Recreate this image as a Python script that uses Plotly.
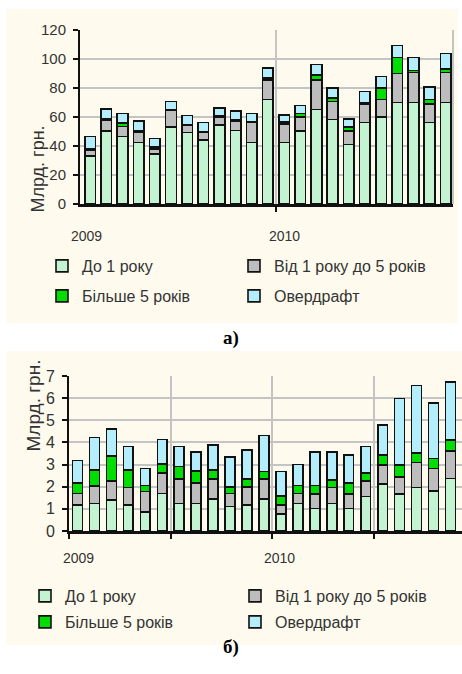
import plotly.graph_objects as go

W, H = 462, 674

# ---------------- data ----------------
month_index = list(range(23))
series_names = ["До 1 року", "Від 1 року до 5 років", "Більше 5 років", "Овердрафт"]
series_colors = ["#C4F3D2", "#BDBDBD", "#00DD00", "#B4EEFC"]

top_do1 = [33, 50.5, 46.5, 42.3, 34.3, 53.3, 49.2, 44.1, 54.5, 50.6, 42.3, 72.2,
           42.3, 50.3, 65.3, 58.4, 41.1, 56.1, 59.8, 69.9, 69.9, 56.1, 69.9]
top_1to5 = [4, 7.5, 7, 7, 3.7, 11.5, 5.3, 5.1, 5.7, 6.2, 13.8, 13.3,
            12.9, 9.9, 20.2, 12.2, 9.2, 12.9, 12.4, 20.2, 20.7, 12.9, 20.7]
top_over5 = [1, 0.5, 2.5, 1, 1.3, 0.5, 0.3, 0.4, 0.4, 1.1, 0.9, 1.4,
             1.4, 2.3, 3.5, 2.7, 3, 0.5, 7.6, 11, 1.6, 3.2, 2.7]
top_overdraft = [8.5, 7, 6.5, 7, 6, 5.3, 6.3, 6.5, 5.8, 6.2, 5.5, 6.7,
                 4.8, 5.5, 7.3, 6.5, 5.3, 8, 8, 8.1, 8.9, 8.7, 10.6]

bot_do1 = [1.17, 1.25, 1.40, 1.17, 0.87, 1.70, 1.25, 1.25, 1.45, 1.10, 1.17, 1.45,
           0.77, 1.25, 1.02, 1.25, 1.02, 1.55, 2.12, 1.67, 1.96, 1.81, 2.38]
bot_1to5 = [0.53, 0.78, 0.87, 0.79, 0.91, 0.91, 1.10, 0.93, 0.90, 0.60, 0.83, 0.90,
            0.40, 0.45, 0.64, 0.71, 0.64, 0.71, 0.86, 0.78, 1.14, 1.02, 1.23]
bot_over5 = [0.48, 0.73, 1.13, 0.80, 0.27, 0.42, 0.56, 0.53, 0.41, 0.30, 0.35, 0.33,
             0.41, 0.35, 0.39, 0.34, 0.52, 0.35, 0.45, 0.53, 0.41, 0.45, 0.50]
bot_overdraft = [1.00, 1.46, 1.21, 1.05, 0.78, 1.11, 0.90, 0.87, 1.13, 1.33, 1.31, 1.64,
                 1.10, 0.96, 1.53, 1.28, 1.25, 1.20, 1.36, 3.01, 3.06, 2.49, 2.61]

year_labels = ["2009", "2010"]
y_title = "Млрд. грн."
top_yticks = [0, 20, 40, 60, 80, 100, 120]
bot_yticks = [0, 1, 2, 3, 4, 5, 6, 7]

# ---------------- helpers ----------------
def px(x):
    return x / W

def py(y):
    return 1 - y / H

FONT = "Liberation Sans, Arial, sans-serif"
TXT = "#333333"
GRID = "#C4C4C4"
CREAM = "#FEFBEE"

fig = go.Figure()

top_series = [top_do1, top_1to5, top_over5, top_overdraft]
bot_series = [bot_do1, bot_1to5, bot_over5, bot_overdraft]
top_legends = ["legend", "legend", "legend2", "legend2"]
bot_legends = ["legend3", "legend3", "legend4", "legend4"]

for name, color, vals, lg in zip(series_names, series_colors, top_series, top_legends):
    fig.add_trace(go.Bar(
        x=month_index, y=vals, name=name, width=0.66,
        marker=dict(color=color, line=dict(color="#111111", width=1.6)),
        xaxis="x", yaxis="y", legend=lg, hoverinfo="y+name"))

for name, color, vals, lg in zip(series_names, series_colors, bot_series, bot_legends):
    fig.add_trace(go.Bar(
        x=month_index, y=vals, name=name, width=0.58,
        marker=dict(color=color, line=dict(color="#111111", width=1.6)),
        xaxis="x2", yaxis="y2", legend=lg, hoverinfo="y+name"))

# panel backgrounds
shapes = [
    dict(type="rect", xref="paper", yref="paper", x0=px(6), x1=px(458), y0=py(323), y1=py(9),
         fillcolor=CREAM, line=dict(width=0), layer="below"),
    dict(type="rect", xref="paper", yref="paper", x0=px(6), x1=px(462), y0=py(645), y1=py(351),
         fillcolor=CREAM, line=dict(width=0), layer="below"),
    # right border of top plot area
    dict(type="line", xref="x domain", yref="y domain", x0=1, x1=1, y0=0, y1=1,
         line=dict(color=GRID, width=2), layer="below"),
]

axis_font = dict(family=FONT, size=15, color=TXT)

legend_common = dict(orientation="h", bgcolor="rgba(0,0,0,0)", borderwidth=0,
                     traceorder="normal", entrywidthmode="pixels",
                     xanchor="left", yanchor="middle",
                     font=dict(family=FONT, size=16, color=TXT))

fig.update_layout(
    width=W, height=H,
    margin=dict(l=0, r=0, t=0, b=0, autoexpand=False),
    paper_bgcolor="white",
    plot_bgcolor=CREAM,
    barmode="stack",
    bargap=0.3,
    font=dict(family=FONT, color=TXT),
    xaxis=dict(domain=[px(80), px(453)], range=[-0.63, 22.45],
               tickmode="array", tickvals=[11.5], showticklabels=False,
               ticks="outside", ticklen=5, tickwidth=2, tickcolor="#111111",
               showgrid=True, gridcolor=GRID, gridwidth=2,
               showline=True, linecolor="#111111", linewidth=2.5, zeroline=False,
               anchor="y"),
    yaxis=dict(domain=[py(204), py(30)], range=[0, 120],
               tickmode="array", tickvals=top_yticks,
               ticks="outside", ticklen=5, tickwidth=2, tickcolor="#111111",
               tickfont=axis_font, ticklabelstandoff=4,
               showgrid=True, gridcolor=GRID, gridwidth=2,
               showline=True, linecolor="#111111", linewidth=2, zeroline=False,
               anchor="x"),
    xaxis2=dict(domain=[px(69), 1.0], range=[-0.5, 22.68],
                tickmode="array", tickvals=[-0.5, 5.5, 11.5, 17.5], showticklabels=False,
                ticks="outside", ticklen=5, tickwidth=2, tickcolor="#111111",
                showgrid=True, gridcolor=GRID, gridwidth=2,
                showline=True, linecolor="#111111", linewidth=2.5, zeroline=False,
                anchor="y2"),
    yaxis2=dict(domain=[py(531), py(376)], range=[0, 7],
                tickmode="array", tickvals=bot_yticks,
                ticks="outside", ticklen=5, tickwidth=2, tickcolor="#111111",
                tickfont=dict(family=FONT, size=16, color=TXT), ticklabelstandoff=4,
                showgrid=True, gridcolor=GRID, gridwidth=2,
                showline=True, linecolor="#111111", linewidth=2, zeroline=False,
                anchor="x2"),
    legend=dict(legend_common, x=px(42), y=py(266), entrywidth=147),
    legend2=dict(legend_common, x=px(42), y=py(296), entrywidth=147),
    legend3=dict(legend_common, x=px(25), y=py(596), entrywidth=165),
    legend4=dict(legend_common, x=px(25), y=py(622), entrywidth=165),
    shapes=shapes,
)

annotations = [
    # y-axis titles
    dict(text=y_title, xref="paper", yref="paper", x=px(25), y=py(124), textangle=-90,
         showarrow=False, font=dict(family=FONT, size=18, color=TXT)),
    dict(text=y_title, xref="paper", yref="paper", x=px(20), y=py(454), textangle=-90,
         showarrow=False, font=dict(family=FONT, size=19, color=TXT)),
    # year labels top
    dict(text=year_labels[0], xref="paper", yref="paper", x=px(69), y=py(236),
         xanchor="left", yanchor="middle", showarrow=False,
         font=dict(family=FONT, size=14, color=TXT)),
    dict(text=year_labels[1], xref="paper", yref="paper", x=px(267), y=py(236),
         xanchor="left", yanchor="middle", showarrow=False,
         font=dict(family=FONT, size=14, color=TXT)),
    # year labels bottom
    dict(text=year_labels[0], xref="paper", yref="paper", x=px(61), y=py(558),
         xanchor="left", yanchor="middle", showarrow=False,
         font=dict(family=FONT, size=14, color=TXT)),
    dict(text=year_labels[1], xref="paper", yref="paper", x=px(262), y=py(558),
         xanchor="left", yanchor="middle", showarrow=False,
         font=dict(family=FONT, size=14, color=TXT)),
    # panel captions
    dict(text="<b>а)</b>", xref="paper", yref="paper", x=px(231), y=py(338),
         showarrow=False, font=dict(family="Liberation Serif, Times New Roman, serif", size=19, color="#000000")),
    dict(text="<b>б)</b>", xref="paper", yref="paper", x=px(231), y=py(660),
         showarrow=False, font=dict(family="Liberation Serif, Times New Roman, serif", size=19, color="#000000")),
]
fig.update_layout(annotations=annotations)

fig.write_html(
    "out.html",
    config={"displayModeBar": False},
    post_script="document.body.style.margin='0';document.body.style.overflow='hidden';",
)
